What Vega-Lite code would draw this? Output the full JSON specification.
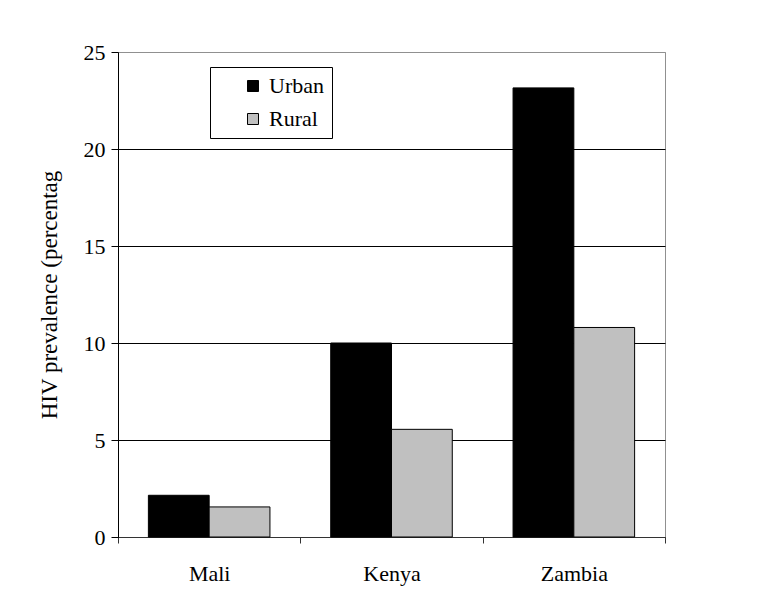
{
  "$schema": "https://vega.github.io/schema/vega-lite/v6.json",
  "width": 547,
  "height": 485,
  "autosize": "none",
  "padding": {"left": 118, "top": 52, "right": 115, "bottom": 69},
  "background": "white",
  "data": {
    "values": [
      {"country": "Mali", "area": "Urban", "prevalence": 2.15},
      {"country": "Mali", "area": "Rural", "prevalence": 1.55},
      {"country": "Kenya", "area": "Urban", "prevalence": 10.0},
      {"country": "Kenya", "area": "Rural", "prevalence": 5.55},
      {"country": "Zambia", "area": "Urban", "prevalence": 23.15},
      {"country": "Zambia", "area": "Rural", "prevalence": 10.8}
    ]
  },
  "mark": {"type": "bar", "stroke": "black", "strokeWidth": 1},
  "encoding": {
    "x": {
      "field": "country",
      "type": "nominal",
      "sort": ["Mali", "Kenya", "Zambia"],
      "scale": {"paddingInner": 0, "paddingOuter": 0},
      "axis": {
        "title": null,
        "labelAngle": 0,
        "tickBand": "extent",
        "tickSize": 6,
        "tickColor": "#333",
        "domainColor": "#333",
        "labelPadding": 20,
        "labelFont": "Liberation Serif",
        "labelFontSize": 22,
        "labelColor": "black"
      }
    },
    "xOffset": {
      "field": "area",
      "type": "nominal",
      "sort": ["Urban", "Rural"],
      "scale": {"paddingInner": 0, "paddingOuter": 0.5}
    },
    "y": {
      "field": "prevalence",
      "type": "quantitative",
      "scale": {"domain": [0, 25], "nice": false},
      "axis": {
        "title": "HIV prevalence (percentag",
        "values": [0, 5, 10, 15, 20, 25],
        "tickSize": 7,
        "tickColor": "black",
        "domainColor": "black",
        "labelPadding": 6,
        "labelFont": "Liberation Serif",
        "labelFontSize": 22,
        "labelColor": "black",
        "titleFont": "Liberation Serif",
        "titleFontSize": 23,
        "titleFontWeight": "normal",
        "titleColor": "black",
        "titlePadding": 22,
        "grid": true,
        "gridColor": {"condition": {"test": "datum.value === 25", "value": "#909090"}, "value": "black"},
        "gridWidth": 1
      }
    },
    "color": {
      "field": "area",
      "type": "nominal",
      "sort": ["Urban", "Rural"],
      "scale": {"domain": ["Urban", "Rural"], "range": ["black", "#c0c0c0"]},
      "legend": {
        "title": null,
        "orient": "none",
        "legendX": 92,
        "legendY": 15,
        "padding": 8,
        "strokeColor": "black",
        "fillColor": "white",
        "symbolType": "square",
        "symbolSize": 121,
        "symbolStrokeColor": "black",
        "symbolStrokeWidth": 1,
        "symbolOffset": 24,
        "labelFont": "Liberation Serif",
        "labelFontSize": 22,
        "labelColor": "black",
        "labelOffset": 5,
        "rowPadding": 11
      }
    }
  },
  "config": {
    "view": {"stroke": "#909090", "strokeWidth": 1},
    "axis": {"labelFont": "Liberation Serif"}
  }
}
